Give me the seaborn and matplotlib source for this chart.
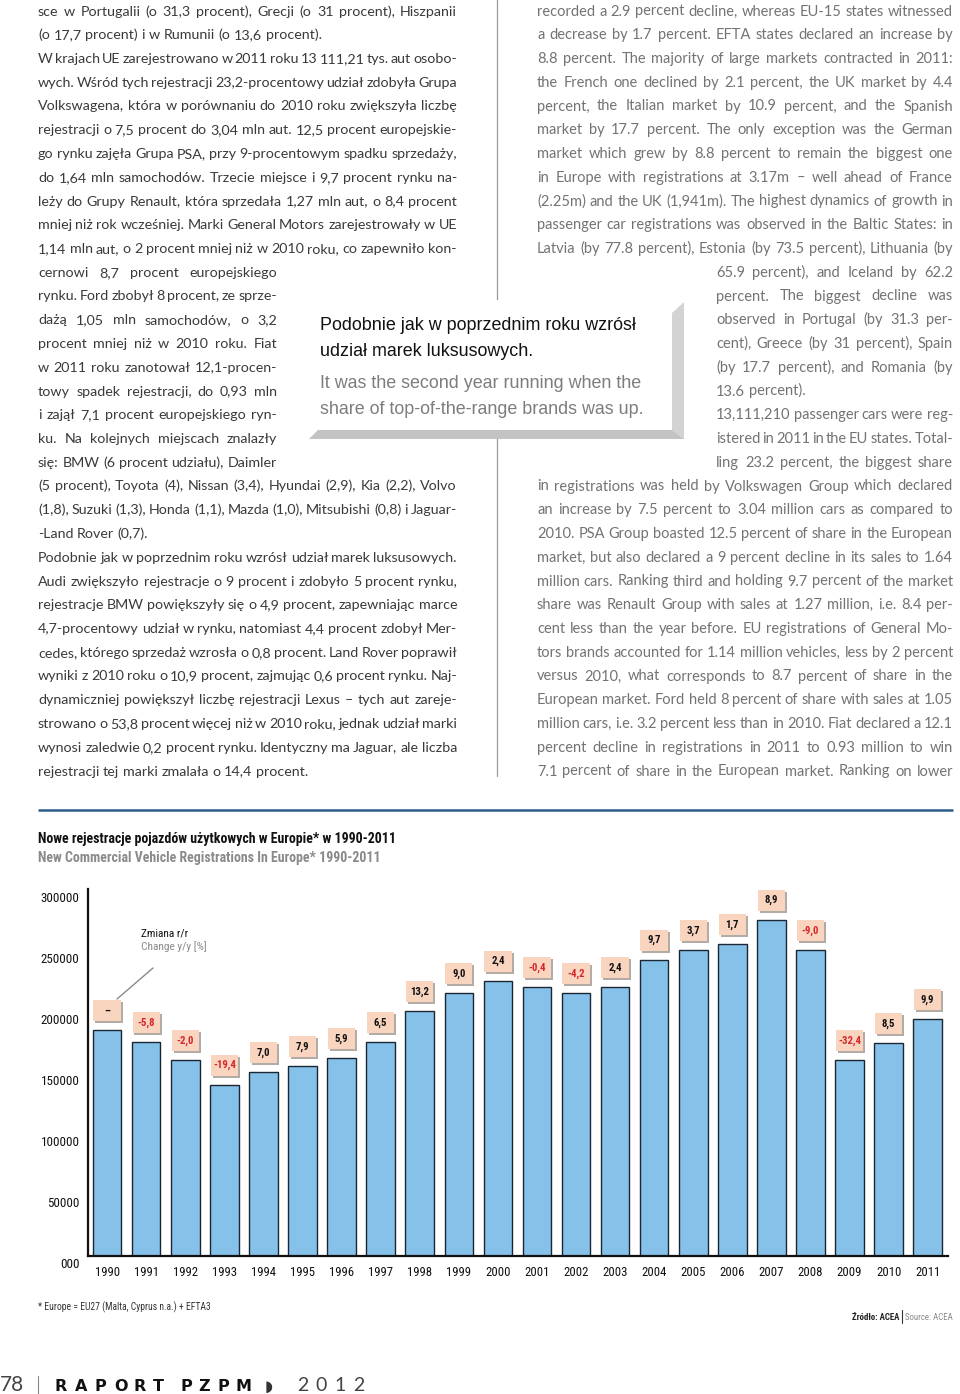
import numpy as np
import pandas as pd
import matplotlib
matplotlib.use("Agg")
import matplotlib.pyplot as plt
import seaborn as sns
from matplotlib import font_manager as fm
from matplotlib import transforms as mtransforms
from matplotlib.font_manager import FontProperties
from matplotlib.patches import Rectangle, Polygon

# ---------------- data ----------------
years = [str(y) for y in range(1990, 2012)]
registrations = [184800, 174700, 160000, 140000, 150200, 155100, 161900, 174700,
                 200100, 214900, 225000, 220000, 214900, 220000, 242200, 250100,
                 255000, 274900, 250100, 160000, 173900, 193600]
change_yy = [None, -5.8, -2.0, -19.4, 7.0, 7.9, 5.9, 6.5, 13.2, 9.0, 2.4,
             -0.4, -4.2, 2.4, 9.7, 3.7, 1.7, 8.9, -9.0, -32.4, 8.5, 9.9]
ytick_values = [0, 50000, 100000, 150000, 200000, 250000, 300000]
ytick_labels = ["000", "50000", "100000", "150000", "200000", "250000", "300000"]

title_pl = "Nowe rejestracje pojazdów użytkowych w Europie* w 1990-2011"
title_en = "New Commercial Vehicle Registrations In Europe* 1990-2011"
legend_pl = "Zmiana r/r"
legend_en = "Change y/y [%]"
footnote = "* Europe = EU27 (Malta, Cyprus n.a.) + EFTA3"
source_pl = "Źródło: ACEA"
source_en = "Source: ACEA"

left_lines = [
    "sce w Portugalii (o 31,3 procent), Grecji (o 31 procent), Hiszpanii",
    "(o 17,7 procent) i w Rumunii (o 13,6 procent).",
    "W krajach UE zarejestrowano w 2011 roku 13 111,21 tys. aut osobo-",
    "wych. Wśród tych rejestracji 23,2-procentowy udział zdobyła Grupa",
    "Volkswagena, która w porównaniu do 2010 roku zwiększyła liczbę",
    "rejestracji o 7,5 procent do 3,04 mln aut. 12,5 procent europejskie-",
    "go rynku zajęła Grupa PSA, przy 9-procentowym spadku sprzedaży,",
    "do 1,64 mln samochodów. Trzecie miejsce i 9,7 procent rynku na-",
    "leży do Grupy Renault, która sprzedała 1,27 mln aut, o 8,4 procent",
    "mniej niż rok wcześniej. Marki General Motors zarejestrowały w UE",
    "1,14 mln aut, o 2 procent mniej niż w 2010 roku, co zapewniło kon-",
    "cernowi 8,7 procent europejskiego",
    "rynku. Ford zbobył 8 procent, ze sprze-",
    "dażą 1,05 mln samochodów, o 3,2",
    "procent mniej niż w 2010 roku. Fiat",
    "w 2011 roku zanotował 12,1-procen-",
    "towy spadek rejestracji, do 0,93 mln",
    "i zajął 7,1 procent europejskiego ryn-",
    "ku. Na kolejnych miejscach znalazły",
    "się: BMW (6 procent udziału), Daimler",
    "(5 procent), Toyota (4), Nissan (3,4), Hyundai (2,9), Kia (2,2), Volvo",
    "(1,8), Suzuki (1,3), Honda (1,1), Mazda (1,0), Mitsubishi (0,8) i Jaguar-",
    "-Land Rover (0,7).",
    "Podobnie jak w poprzednim roku wzrósł udział marek luksusowych.",
    "Audi zwiększyło rejestracje o 9 procent i zdobyło 5 procent rynku,",
    "rejestracje BMW powiększyły się o 4,9 procent, zapewniając marce",
    "4,7-procentowy udział w rynku, natomiast 4,4 procent zdobył Mer-",
    "cedes, którego sprzedaż wzrosła o 0,8 procent. Land Rover poprawił",
    "wyniki z 2010 roku o 10,9 procent, zajmując 0,6 procent rynku. Naj-",
    "dynamiczniej powiększył liczbę rejestracji Lexus – tych aut zareje-",
    "strowano o 53,8 procent więcej niż w 2010 roku, jednak udział marki",
    "wynosi zaledwie 0,2 procent rynku. Identyczny ma Jaguar, ale liczba",
    "rejestracji tej marki zmalała o 14,4 procent.",
]
left_plain = {1, 22, 32}

right_lines = [
    "recorded a 2.9 percent decline, whereas EU-15 states witnessed",
    "a decrease by 1.7 percent. EFTA states declared an increase by",
    "8.8 percent. The majority of large markets contracted in 2011:",
    "the French one declined by 2.1 percent, the UK market by 4.4",
    "percent, the Italian market by 10.9 percent, and the Spanish",
    "market by 17.7 percent. The only exception was the German",
    "market which grew by 8.8 percent to remain the biggest one",
    "in Europe with registrations at 3.17m – well ahead of France",
    "(2.25m) and the UK (1,941m). The highest dynamics of growth in",
    "passenger car registrations was observed in the Baltic States: in",
    "Latvia (by 77.8 percent), Estonia (by 73.5 percent), Lithuania (by",
    "65.9 percent), and Iceland by 62.2",
    "percent. The biggest decline was",
    "observed in Portugal (by 31.3 per-",
    "cent), Greece (by 31 percent), Spain",
    "(by 17.7 percent), and Romania (by",
    "13.6 percent).",
    "13,111,210 passenger cars were reg-",
    "istered in 2011 in the EU states. Total-",
    "ling 23.2 percent, the biggest share",
    "in registrations was held by Volkswagen Group which declared",
    "an increase by 7.5 percent to 3.04 million cars as compared to",
    "2010. PSA Group boasted 12.5 percent of share in the European",
    "market, but also declared a 9 percent decline in its sales to 1.64",
    "million cars. Ranking third and holding 9.7 percent of the market",
    "share was Renault Group with sales at 1.27 million, i.e. 8.4 per-",
    "cent less than the year before. EU registrations of General Mo-",
    "tors brands accounted for 1.14 million vehicles, less by 2 percent",
    "versus 2010, what corresponds to 8.7 percent of share in the",
    "European market. Ford held 8 percent of share with sales at 1.05",
    "million cars, i.e. 3.2 percent less than in 2010. Fiat declared a 12.1",
    "percent decline in registrations in 2011 to 0.93 million to win",
    "7.1 percent of share in the European market. Ranking on lower",
]
right_plain = {16}

callout_pl = ["Podobnie jak w poprzednim roku wzrósł", "udział marek luksusowych."]
callout_en = ["It was the second year running when the", "share of top-of-the-range brands was up."]

# ---------------- style / fonts ----------------
sns.set_style("white")
ttf = fm.fontManager.ttflist
names = {f.name for f in ttf}
BODY = "Lato" if "Lato" in names else "DejaVu Sans"
ARIAL = "Liberation Sans" if "Liberation Sans" in names else "DejaVu Sans"
COND, COND_STRETCH = None, "normal"
if "Liberation Sans Narrow" in names:
    COND = "Liberation Sans Narrow"
else:
    for fam in ["Roboto Condensed", "Open Sans Condensed"]:
        if fam in names:
            COND = fam
            break
    if COND is None:
        for fam in ["Noto Sans", "DejaVu Sans", "Open Sans", "Roboto"]:
            if any(f.name == fam and f.stretch in ("condensed", "semi-condensed", "extra-condensed") for f in ttf):
                COND, COND_STRETCH = fam, "condensed"
                break
if COND is None:
    COND = ARIAL
plt.rcParams["font.family"] = [BODY, "DejaVu Sans"]

W, H = 960, 1394
fig = plt.figure(figsize=(W / 100, H / 100), dpi=100)
fig.patch.set_facecolor("white")
renderer = fig.canvas.get_renderer()


def fp(family, size, weight="normal", stretch="normal"):
    return FontProperties(family=family, size=size, weight=weight, stretch=stretch)


def tw(s, prop):
    w, h, d = renderer.get_text_width_height_descent(s, prop, ismath=False)
    return w


def fit(s, family, target, weight="normal", stretch="normal"):
    return 10.0 * target / tw(s, fp(family, 10, weight, stretch))


# page axes in pixel coordinates (y downward)
pg = fig.add_axes([0, 0, 1, 1])
pg.set_xlim(0, W)
pg.set_ylim(H, 0)
pg.axis("off")


def block_size(lines, spans, plain, family, weight):
    p10 = fp(family, 10, weight)
    sp = tw("a a", p10) - tw("aa", p10)
    ratios = []
    for i, line in enumerate(lines):
        if i in plain:
            continue
        ws = [tw(w, p10) for w in line.split(" ")]
        nat = sum(ws) + (len(ws) - 1) * 0.6 * sp
        x0, x1 = spans[i]
        ratios.append((x1 - x0) / nat)
    return 10.0 * min(ratios)


def draw_block(lines, spans, plain, baselines, prop, color):
    sp = tw("a a", prop) - tw("aa", prop)
    for i, line in enumerate(lines):
        words = line.split(" ")
        ws = [tw(w, prop) for w in words]
        x0, x1 = spans[i]
        if i not in plain and len(words) > 1:
            gap = (x1 - x0 - sum(ws)) / (len(words) - 1)
        else:
            gap = sp
        x = x0
        for w, wd in zip(words, ws):
            pg.text(x, baselines[i], w, fontproperties=prop, color=color,
                    ha="left", va="baseline", zorder=2)
            x += wd + gap


line_h = 23.75
base0 = 15.5
left_spans = [(38, 457) if (i < 11 or i > 19) else (38, 277) for i in range(len(left_lines))]
right_spans = [(537, 953) if (i < 11 or i > 19) else (716, 953) for i in range(len(right_lines))]
baselines = [base0 + i * line_h for i in range(33)]

s_left = block_size(left_lines, left_spans, left_plain, BODY, "normal")
s_right = block_size(right_lines, right_spans, right_plain, BODY, "normal")
draw_block(left_lines, left_spans, left_plain, baselines, fp(BODY, s_left, "normal"), "#3a3a3a")
draw_block(right_lines, right_spans, right_plain, baselines, fp(BODY, s_right, "normal"), "#737373")

# column separator (behind callout box)
pg.plot([497, 497], [0, 776], color="#9a9a9a", lw=0.9, zorder=1)

# callout box with bevel
pg.add_patch(Rectangle((306, 300), 366, 130, fc="white", ec="none", zorder=3))
pg.add_patch(Polygon([(672, 313), (684, 302), (684, 439), (672, 430)], closed=True,
                     fc="#d3d3d3", ec="none", zorder=3))
pg.add_patch(Polygon([(318, 430), (672, 430), (684, 439), (309, 439)], closed=True,
                     fc="#c3c3c3", ec="none", zorder=3))
s_call = fit(callout_pl[0], ARIAL, 315)
pc = fp(ARIAL, s_call)
pg.text(320, 329.5, callout_pl[0], fontproperties=pc, color="#111111", va="baseline", zorder=4)
pg.text(320, 356.5, callout_pl[1], fontproperties=pc, color="#111111", va="baseline", zorder=4)
pg.text(320, 388.0, callout_en[0], fontproperties=pc, color="#7d7d7d", va="baseline", zorder=4)
pg.text(320, 414.5, callout_en[1], fontproperties=pc, color="#7d7d7d", va="baseline", zorder=4)

# blue rule
pg.plot([38, 953], [810, 810], color="#2c5d8a", lw=1.8, solid_capstyle="butt")

# chart titles
s_t = fit(title_pl, COND, 359, "bold", COND_STRETCH)
pg.text(38, 842.5, title_pl, fontproperties=fp(COND, s_t, "bold", COND_STRETCH), color="#111111", va="baseline")
pg.text(38, 862.0, title_en, fontproperties=fp(COND, s_t, "bold", COND_STRETCH), color="#8a8a8a", va="baseline")

s_leg = fit(legend_pl, COND, 47, "normal", COND_STRETCH)
pg.text(141, 936.5, legend_pl, fontproperties=fp(COND, s_leg, "normal", COND_STRETCH), color="#111111", va="baseline")
pg.text(141, 950.5, legend_en, fontproperties=fp(COND, s_leg, "normal", COND_STRETCH), color="#8a8a8a", va="baseline")
pg.plot([153, 117], [968, 999], color="#8a8a8a", lw=1.0)

# footnote and source
s_fn = fit(footnote, COND, 172, "normal", COND_STRETCH)
pg.text(38, 1310.5, footnote, fontproperties=fp(COND, s_fn, "normal", COND_STRETCH), color="#333333", va="baseline")
s_src = fit(source_pl, COND, 48, "bold", COND_STRETCH)
src_en_w = tw(source_en, fp(COND, s_src, "normal", COND_STRETCH))
x_en = 953 - src_en_w
pg.text(x_en, 1320.5, source_en, fontproperties=fp(COND, s_src, "normal", COND_STRETCH), color="#8a8a8a", va="baseline")
pg.plot([x_en - 3, x_en - 3], [1310, 1323], color="#333333", lw=0.8)
pg.text(x_en - 6, 1320.5, source_pl, fontproperties=fp(COND, s_src, "bold", COND_STRETCH), color="#222222", va="baseline", ha="right")

# page footer
s78 = fit("78", BODY, 24, "normal")
pg.text(0, 1391, "78", fontproperties=fp(BODY, s78, "normal"), color="#444444", va="baseline")
pg.plot([38, 38], [1376, 1394], color="#888888", lw=0.8)
pf_b = fp("DejaVu Sans", 11.5, "bold")
for k, ch in enumerate("RAPORT"):
    pg.text(55 + k * 19.6, 1391, ch, fontproperties=pf_b, color="#111111", va="baseline")
for k, ch in enumerate("PZPM"):
    pg.text(180 + k * 18.6, 1391, ch, fontproperties=pf_b, color="#111111", va="baseline")
pg.text(265, 1391, "◗", fontproperties=fp("DejaVu Sans", 11), color="#333333", va="baseline")
pf_y = fp(BODY, 14, "normal")
for k, ch in enumerate("2012"):
    pg.text(297 + k * 18.7, 1391, ch, fontproperties=pf_y, color="#444444", va="baseline")

# ---------------- chart ----------------
ax_left, ax_right, ax_top, ax_bot = 88, 948, 889, 1256
ax = fig.add_axes([ax_left / W, (H - ax_bot) / H, (ax_right - ax_left) / W, (ax_bot - ax_top) / H])
ax.patch.set_alpha(0)
df = pd.DataFrame({"year": years, "registrations": registrations})
sns.barplot(data=df, x="year", y="registrations", color="#85c1e9", saturation=1,
            edgecolor="#1c2632", linewidth=1.0, width=0.73, ax=ax, zorder=2)
ax.set_xlim(-0.49, 21.52)
ax.set_ylim(0, 300000)
ax.set_axisbelow(True)
for s in ["top", "right"]:
    ax.spines[s].set_visible(False)
for s in ["left", "bottom"]:
    ax.spines[s].set_linewidth(1.6)
    ax.spines[s].set_color("#111111")
ax.set_xlabel("")
ax.set_ylabel("")
ax.set_yticks(ytick_values, ytick_labels)
ax.tick_params(axis="y", direction="in", length=15, width=1.6, pad=6, colors="#111111")
ax.tick_params(axis="x", which="major", length=0, pad=7.5, colors="#111111")
ax.set_xticks(np.arange(0.5, len(years), 1.0), minor=True)
ax.tick_params(axis="x", which="minor", direction="in", length=6, width=1.6, color="#111111")

s_yt = fit("300000", COND, 38, "normal", COND_STRETCH)
s_xt = fit("1990", COND, 25, "normal", COND_STRETCH)
ylab_shift = mtransforms.ScaledTranslation(0, -7.5 / 100, fig.dpi_scale_trans)
for lbl in ax.get_yticklabels():
    lbl.set_fontproperties(fp(COND, s_yt, "normal", COND_STRETCH))
    lbl.set_transform(lbl.get_transform() + ylab_shift)
for lbl in ax.get_xticklabels():
    lbl.set_fontproperties(fp(COND, s_xt, "normal", COND_STRETCH))

# change labels in boxes
upx = 300000 / (ax_bot - ax_top)
gap, bh, bw = 9 * upx, 21 * upx, 0.70
s_lab = fit("13,2", COND, 19, "bold", COND_STRETCH)
plab = fp(COND, s_lab, "bold", COND_STRETCH)
for i, (v, c) in enumerate(zip(registrations, change_yy)):
    y0 = v + gap
    ax.add_patch(Rectangle((i - 0.35 + 0.05, y0 - 2 * upx), bw, bh, fc="#b3aca6", ec="none", zorder=3, clip_on=False))
    ax.add_patch(Rectangle((i - 0.35, y0), bw, bh, fc="#f9d4bf", ec="none", zorder=4, clip_on=False))
    if c is None:
        txt, col = "–", "#111111"
    else:
        txt = f"{c:.1f}".replace(".", ",")
        col = "#d4282c" if c < 0 else "#111111"
    ax.text(i - 0.0, y0 + bh / 2, txt, fontproperties=plab, color=col,
            ha="center", va="center", zorder=5, clip_on=False)

fig.savefig("out.png", dpi=100, facecolor="white")
